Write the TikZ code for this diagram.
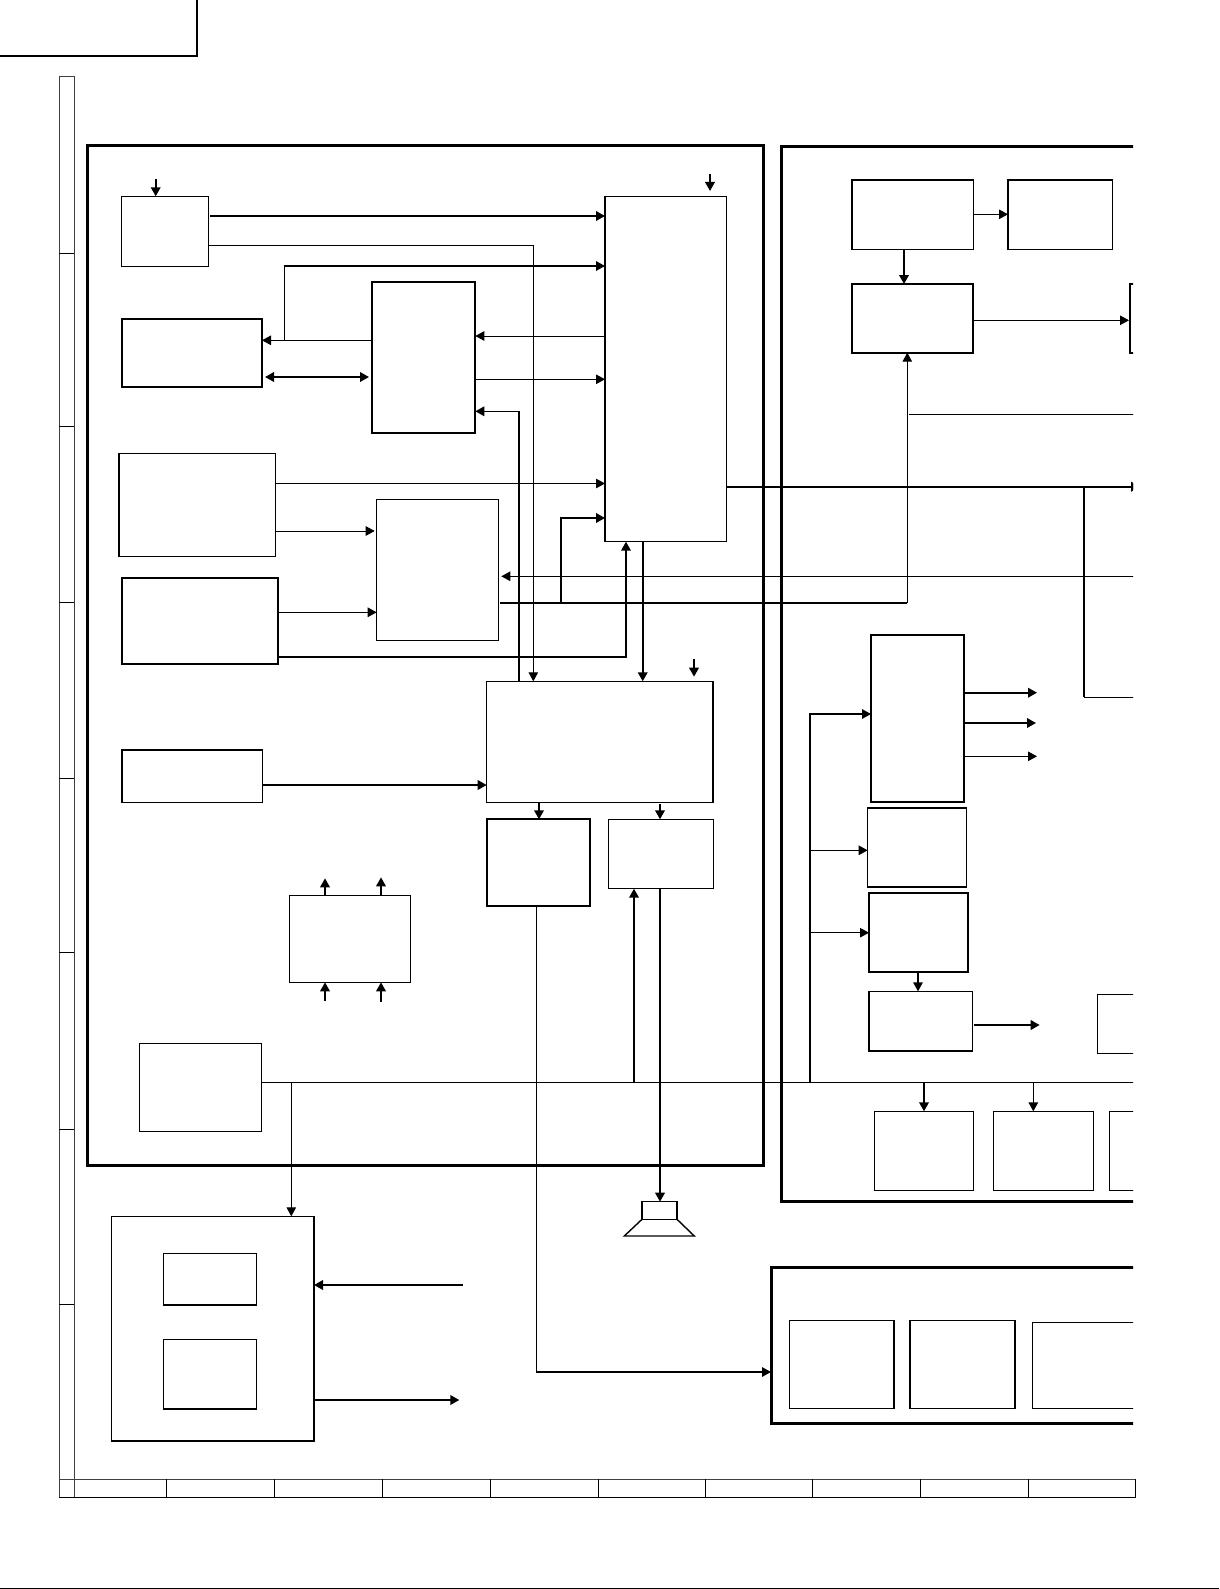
\documentclass[tikz,border=0pt]{standalone}
\usepackage{tikz}
\usetikzlibrary{arrows.meta}

\begin{document}
\begin{tikzpicture}[
    x=1pt, y=-1pt,
    block/.style={
        rectangle,
        draw=black,
        line width=1.4pt,
        inner sep=0pt,
        outer sep=0pt,
        anchor=north west
    },
    heavy/.style={block, line width=1.8pt},
    frame/.style={block, line width=3pt},
    wire/.style={line width=1pt},
    bus/.style={line width=2pt},
    tip/.style={-{Triangle[length=9pt, width=9.5pt]}}
]
\useasboundingbox (0,0) rectangle (1219,1589);

% === Sheet corner and bottom edge ===
\draw[line width=1.7pt] (0,56) -- (197,56) -- (197,0);
\draw[line width=1.2pt] (0,1588.3) -- (1219,1588.3);

% === Ruler ===
\draw[line width=1pt, black!75] (59,1497) -- (59,77) -- (74,77) -- (74,1497);
\draw[line width=1pt, black!75] (59,1479) -- (1135.7,1479);
\draw[line width=1pt] (59,1497) -- (1135.7,1497) -- (1135.7,1479);
\draw[line width=1pt]
    (59,253.5) -- (74,253.5) (59,426.6) -- (74,426.6)
    (59,602) -- (74,602) (59,778) -- (74,778)
    (59,952.5) -- (74,952.5) (59,1129) -- (74,1129)
    (59,1304) -- (74,1304);
\draw[line width=1pt]
    (166,1479) -- (166,1497) (274.6,1479) -- (274.6,1497)
    (382,1479) -- (382,1497) (490.4,1479) -- (490.4,1497)
    (598,1479) -- (598,1497) (705,1479) -- (705,1497)
    (812.7,1479) -- (812.7,1497) (920.5,1479) -- (920.5,1497)
    (1028.3,1479) -- (1028.3,1497);

\begin{scope}
\clip (0,0) rectangle (1133,1589);

% === Frames ===
\node[frame, minimum width=676.4pt, minimum height=1020pt] (leftframe) at (87.3,145.3) {};
\node[frame, minimum width=500pt, minimum height=1054pt] (rightframe) at (781.5,147) {};
\node[frame, minimum width=500pt, minimum height=156.3pt] (lowframe) at (771,1267) {};

% === Left frame: blocks ===
\node[block, minimum width=87.2pt, minimum height=70.4pt] (tuner) at (121.5,196.3) {};
\node[heavy, minimum width=140pt, minimum height=68.6pt] (inputa) at (122,318.7) {};
\node[heavy, minimum width=103.3pt, minimum height=150.7pt] (switcher) at (372,282) {};
\node[block, minimum width=156.3pt, minimum height=102.6pt] (inputb) at (119,453.7) {};
\node[heavy, minimum width=156.3pt, minimum height=86.3pt] (inputc) at (122,577.7) {};
\node[block, minimum width=121.6pt, minimum height=141pt] (decoder) at (376.7,499.3) {};
\node[block, minimum width=121.3pt, minimum height=345.4pt] (mainic) at (605,196.3) {};
\node[block, minimum width=226.3pt, minimum height=121pt] (audioic) at (486.7,681.3) {};
\node[block, minimum width=140.5pt, minimum height=52.5pt] (auxin) at (122,750) {};
\node[heavy, minimum width=103.6pt, minimum height=86.7pt] (ampa) at (486.7,819.3) {};
\node[block, minimum width=105pt, minimum height=69.4pt] (ampb) at (608.3,819.3) {};
\node[block, minimum width=121.4pt, minimum height=86.6pt] (midbox) at (289.3,895.7) {};
\node[block, minimum width=122pt, minimum height=87.6pt] (power) at (139.3,1043.7) {};

% === Below the left frame ===
\node[block, minimum width=202.7pt, minimum height=224.7pt] (outer) at (111.3,1216.3) {};
\node[block, minimum width=93.4pt, minimum height=51.3pt] (innera) at (163.3,1253.7) {};
\node[block, minimum width=93.4pt, minimum height=69.3pt] (innerb) at (163.3,1339.7) {};
\node[block, minimum width=35pt, minimum height=17.6pt] (speaker) at (642,1201.7) {};
\draw[block] (speaker.south west) -- (624.3,1236) -- (694.3,1236) -- (speaker.south east);

% === Right frame: blocks ===
\node[block, minimum width=121.3pt, minimum height=69.3pt] (rtopa) at (852,180) {};
\node[block, minimum width=104.3pt, minimum height=69.3pt] (rtopb) at (1008,180) {};
\node[heavy, minimum width=121.3pt, minimum height=68.7pt] (rmid) at (852,284) {};
\node[heavy, minimum width=60pt, minimum height=68.7pt] (redgea) at (1130,284) {};
\node[heavy, minimum width=93.3pt, minimum height=167.3pt] (rdrive) at (871,634.7) {};
\node[block, minimum width=98.6pt, minimum height=79pt] (rblockb) at (867.7,808) {};
\node[heavy, minimum width=99.3pt, minimum height=79.3pt] (rblockc) at (869,892.7) {};
\node[block, minimum width=103.3pt, minimum height=59.7pt] (rblockd) at (869,991.3) {};
\node[block, minimum width=60pt, minimum height=59pt] (redgeb) at (1097.3,994.7) {};
\node[block, minimum width=99pt, minimum height=79pt] (rblocke) at (874.3,1111.3) {};
\node[block, minimum width=99.6pt, minimum height=79pt] (rblockf) at (993.7,1111.3) {};
\node[block, minimum width=60pt, minimum height=79pt] (redgec) at (1109.3,1111.3) {};

% === Low frame: blocks ===
\node[block, minimum width=104.5pt, minimum height=88pt] (lowa) at (789.5,1320.5) {};
\node[block, minimum width=105pt, minimum height=88pt] (lowb) at (910,1320.7) {};
\node[block, minimum width=200pt, minimum height=86pt] (lowc) at (1032.7,1322.7) {};

% === Free ends and shared rails ===
\coordinate (tunerin) at (155.7,179);
\coordinate (mainin) at (710,174.3);
\coordinate (audioin) at (694,659);
\coordinate (audiotip) at (694,676.7);
\coordinate (maintip) at (710,191);
\coordinate (hrail) at (1140,1082.3);
\coordinate (lowrail) at (500,602.7);
\coordinate (outrail) at (1140,486.7);
\coordinate (feedend) at (1140,576.3);
\coordinate (sideend) at (1140,414.3);
\coordinate (branchend) at (1140,697.3);
\coordinate (drivea) at (1037,692.7);
\coordinate (driveb) at (1036,723);
\coordinate (drivec) at (1037,756.3);
\coordinate (blockout) at (1039.7,1025);
\coordinate (upa) at (325,878.3);
\coordinate (upb) at (381,877.3);
\coordinate (ina) at (325,1001);
\coordinate (inb) at (381,1001.7);
\coordinate (outerin) at (462.7,1285);
\coordinate (outerout) at (459.3,1400);

% === Left frame: connectors ===
\draw[bus, tip] (tunerin) -- (tuner.north -| tunerin);
\draw[bus, tip] (mainin) -- (maintip);
\draw[bus, tip] (audioin) -- (audiotip);
\draw[bus, tip] (210,216) -- (mainic.west |- 0,216);
\draw[wire, tip] (tuner.east |- 0,245.3) -- (533.3,245.3) -- (audioic.north -| 533.3,0);
\draw[wire, tip] (switcher.west |- 0,340.3) -- (inputa.east |- 0,340.3);
\draw[line width=1.6pt, tip] (284.3,340.3) -- (284.3,266) -- (mainic.west |- 0,266);
\draw[bus, {Triangle[length=9pt, width=9.5pt]}-{Triangle[length=9pt, width=9.5pt]}, shorten <=3pt, shorten >=3pt] (inputa.east |- 0,377) -- (switcher.west |- 0,377);
\draw[wire, tip] (mainic.west |- 0,336) -- (switcher.east |- 0,336);
\draw[wire, tip] (switcher.east |- 0,379.3) -- (mainic.west |- 0,379.3);
\draw[line width=1.6pt, tip] (audioic.north -| 519,0) -- (519,411.3) -- (switcher.east |- 0,411.3);
\draw[wire, tip] (inputb.east |- 0,483.5) -- (mainic.west |- 0,483.5);
\draw[wire, tip, shorten >=2pt] (inputb.east |- 0,531) -- (decoder.west |- 0,531);
\draw[wire, tip] (inputc.east |- 0,612.3) -- (decoder.west |- 0,612.3);
\draw[bus, tip] (inputc.east |- 0,656.7) -- (626,656.7) -- (mainic.south -| 626,0);
\draw[bus] (lowrail) -- (907.3,602.7);
\draw[wire, tip] (907.3,602.7) -- (rmid.south -| 907.3,0);
\draw[bus, tip] (561,602.7) -- (561,518) -- (mainic.west |- 0,518);
\draw[wire, tip, shorten >=3pt] (feedend) -- (decoder.east |- feedend);
\draw[bus, tip] (mainic.south -| 642.7,0) -- (audioic.north -| 642.7,0);
\draw[bus, tip] (auxin.east |- 0,785) -- (audioic.west |- 0,785);
\draw[bus, tip] (audioic.south -| 539,0) -- (ampa.north -| 539,0);
\draw[bus, tip] (660,804) -- (ampb.north -| 660,0);
\draw[bus, tip] (midbox.north -| upa) -- (upa);
\draw[bus, tip] (midbox.north -| upb) -- (upb);
\draw[bus, tip] (ina) -- (midbox.south -| ina);
\draw[bus, tip] (inb) -- (midbox.south -| inb);
\draw[wire] (ampa.south -| 536.3,0) -- (536.3,1372);
\draw[line width=1.6pt, tip] (536.3,1372) -- (lowframe.west |- 0,1372);
\draw[bus, tip] (ampb.south -| 660,0) -- (speaker.north -| 660,0);

% === Main rail to the right ===
\draw[bus, tip] (mainic.east |- outrail) -- (outrail);
\draw[line width=1.6pt] (1084,486.7) -- (1084,697.3);
\draw[wire] (1084,697.3) -- (branchend);
\draw[wire] (909,414.3) -- (sideend);

% === Horizontal rail ===
\draw[wire] (power.east |- hrail) -- (hrail);
\draw[wire, tip] (291.3,0 |- hrail) -- (outer.north -| 291.3,0);
\draw[bus, tip] (634,0 |- hrail) -- (ampb.south -| 634,0);
\draw[line width=1.6pt, tip] (810,0 |- hrail) -- (810,714) -- (rdrive.west |- 0,714);
\draw[wire, tip] (810,850.3) -- (rblockb.west |- 0,850.3);
\draw[wire, tip] (810,932.7) -- (rblockc.west |- 0,932.7);
\draw[bus, tip] (924,0 |- hrail) -- (rblocke.north -| 924,0);
\draw[line width=1.5pt, tip] (1033.3,0 |- hrail) -- (rblockf.north -| 1033.3,0);

% === Right frame: connectors ===
\draw[wire, tip] (rtopa.east |- 0,214.3) -- (rtopb.west |- 0,214.3);
\draw[bus, tip] (rtopa.south -| 904,0) -- (rmid.north -| 904,0);
\draw[wire, tip, shorten >=1pt] (rmid.east |- 0,320.3) -- (redgea.west |- 0,320.3);
\draw[bus, tip] (rdrive.east |- drivea) -- (drivea);
\draw[bus, tip] (rdrive.east |- driveb) -- (driveb);
\draw[wire, tip] (rdrive.east |- drivec) -- (drivec);
\draw[line width=1.6pt, tip] (rblockc.south -| 918,0) -- (rblockd.north -| 918,0);
\draw[bus, tip] (974,1025) -- (blockout);

% === Outer block arrows ===
\draw[bus, tip] (outerin) -- (outer.east |- outerin);
\draw[bus, tip] (outer.east |- outerout) -- (outerout);

\end{scope}
\end{tikzpicture}
\end{document}
